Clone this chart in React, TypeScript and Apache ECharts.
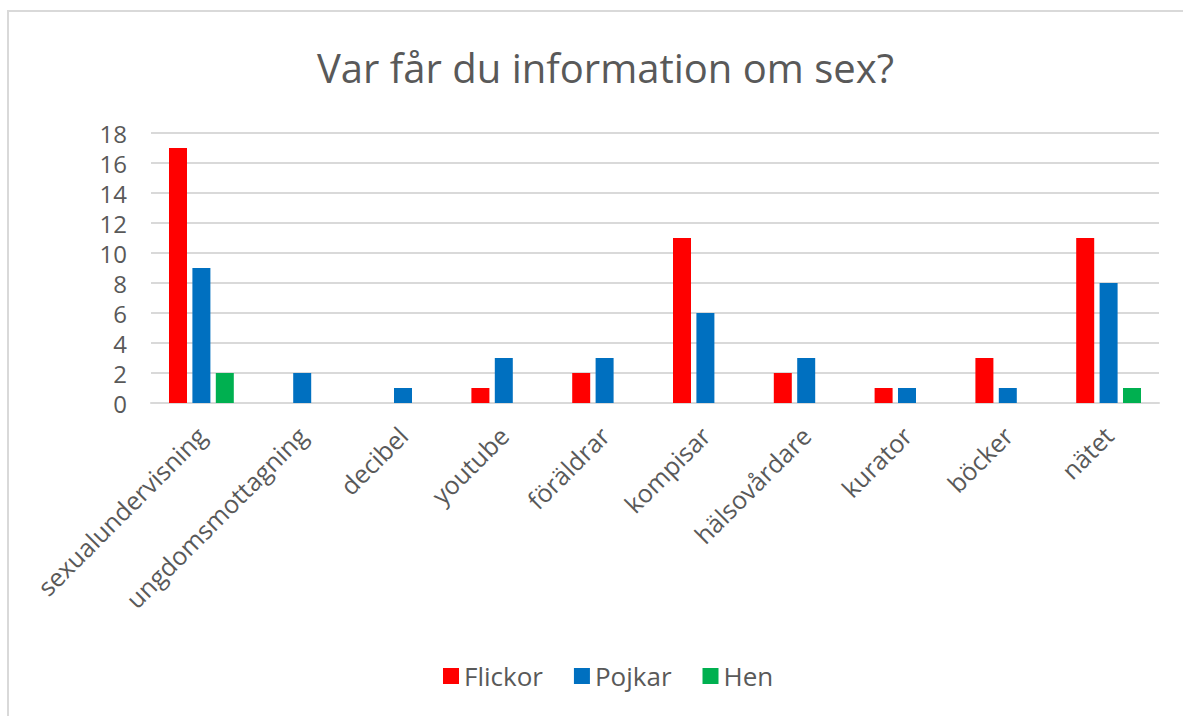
import React, { useEffect, useRef } from "react";
import * as echarts from "echarts";

const categories = [
  "sexualundervisning",
  "ungdomsmottagning",
  "decibel",
  "youtube",
  "föräldrar",
  "kompisar",
  "hälsovårdare",
  "kurator",
  "böcker",
  "nätet",
];
const flickor = [17, 0, 0, 1, 2, 11, 2, 1, 3, 11];
const pojkar = [9, 2, 1, 3, 3, 6, 3, 1, 1, 8];
const hen = [2, 0, 0, 0, 0, 0, 0, 0, 0, 1];
const seriesNames = ["Flickor", "Pojkar", "Hen"];
const colors = ["#FF0000", "#0070C0", "#00B050"];
const titleText = "Var får du information om sex?";

const FONT = "'Open Sans', sans-serif";
const TEXT = "#595959";
const GRID = "#d9d9d9";

export default function App() {
  const ref = useRef<HTMLDivElement>(null);
  useEffect(() => {
    if (!ref.current) return;
    const chart = echarts.init(ref.current, undefined, { renderer: "svg" });
    const data = [flickor, pojkar, hen];
    chart.setOption({
      animation: false,
      textStyle: { fontFamily: FONT },
      title: {
        text: titleText,
        left: 312,
        top: 42,
        textStyle: { color: TEXT, fontSize: 40, fontWeight: "normal", fontFamily: FONT },
      },
      graphic: [
        {
          type: "rect",
          shape: { x: 8, y: 11, width: 1300, height: 900 },
          style: { fill: "none", stroke: GRID, lineWidth: 2 },
          silent: true,
        },
      ],
      legend: {
        top: 658,
        left: 438,
        icon: "rect",
        itemWidth: 16,
        itemHeight: 16,
        itemGap: 31,
        textStyle: { color: TEXT, fontSize: 26, fontFamily: FONT },
        data: seriesNames,
      },
      grid: { left: 151, right: 24, top: 133, bottom: 313 },
      xAxis: {
        type: "category",
        data: categories,
        axisLine: { show: true, lineStyle: { color: GRID, width: 2 } },
        axisTick: { show: false },
        axisLabel: {
          rotate: 45,
          interval: 0,
          margin: 28,
          color: TEXT,
          fontSize: 25,
          fontFamily: FONT,
        },
      },
      yAxis: {
        type: "value",
        min: 0,
        max: 18,
        interval: 2,
        axisLine: { show: false },
        axisTick: { show: false },
        axisLabel: { color: TEXT, fontSize: 24, margin: 24, fontFamily: FONT },
        splitLine: { lineStyle: { color: GRID, width: 2 } },
      },
      series: seriesNames.map((name, i) => ({
        name,
        type: "bar",
        data: data[i],
        barWidth: 18,
        barGap: "30%",
        barCategoryGap: "37%",
        itemStyle: { color: colors[i] },
      })),
    });
    return () => chart.dispose();
  }, []);
  return (
    <div
      ref={ref}
      style={{ position: "absolute", left: 0, top: 0, width: 1183, height: 716, background: "#fff" }}
    />
  );
}
